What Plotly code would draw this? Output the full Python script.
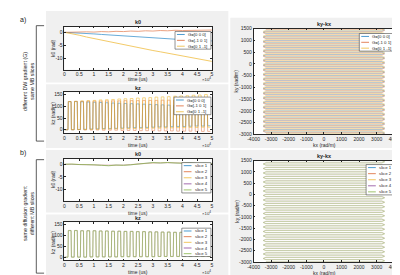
import plotly.graph_objects as go

# ---------------- DATA ----------------
t_k0 = [0, 0.25, 0.5, 0.75, 1.0, 1.25, 1.5, 1.75, 2.0, 2.25, 2.5, 2.75, 3.0,
        3.25, 3.5, 3.75, 4.0, 4.25, 4.5, 4.75, 5.0]  # time (x10^4 us)

# panel a: k0 for different DW gradients
k0_a_G000 = [0, -0.1, -0.2, -0.4, -0.6, -0.8, -1.0, -1.2, -1.4, -1.6, -1.8,
             -2.0, -2.2, -2.4, -2.6, -2.7, -2.9, -3.0, -3.1, -3.2, -3.3]
k0_a_Gm101 = [0, 0.1, 0.0, 0.2, 0.1, 0.3, 0.2, 0.4, 0.3, 0.5, 0.4,
              0.6, 0.5, 0.7, 0.6, 0.8, 0.7, 0.8, 0.9, 0.8, 0.9]
k0_a_G01m1 = [0, -0.5, -1.1, -1.8, -2.4, -3.0, -3.6, -4.2, -4.8, -5.4, -5.9,
              -6.5, -7.0, -7.5, -8.0, -8.6, -9.1, -9.6, -10.1, -10.7, -11.2]

# panel b: k0 for different MB slices
k0_b_s1 = [0, 0.0, -0.1, -0.1, -0.2, -0.4, -0.5, -0.3, -0.4, -0.2, 0.1,
           0.4, 0.6, 0.5, 0.7, 0.5, 0.4, 0.6, 0.3, 0.4, 0.3]
k0_b_s2 = [0, 0.1, -0.1, -0.2, -0.2, -0.3, -0.5, -0.4, -0.3, -0.2, 0.2,
           0.4, 0.5, 0.6, 0.6, 0.5, 0.5, 0.5, 0.4, 0.3, 0.3]
k0_b_s3 = [0, 0.0, 0.0, -0.1, -0.3, -0.4, -0.4, -0.3, -0.4, -0.1, 0.1,
           0.3, 0.6, 0.6, 0.7, 0.6, 0.4, 0.5, 0.4, 0.4, 0.2]
k0_b_s4 = [0, 0.0, -0.1, -0.2, -0.3, -0.3, -0.5, -0.4, -0.3, -0.1, 0.2,
           0.5, 0.6, 0.5, 0.6, 0.6, 0.5, 0.6, 0.3, 0.3, 0.3]
k0_b_s5 = [0, 0.1, -0.1, -0.1, -0.2, -0.4, -0.6, -0.3, -0.4, -0.2, 0.0,
           0.4, 0.7, 0.5, 0.7, 0.5, 0.4, 0.6, 0.4, 0.5, 0.3]

# kz blip timing (x10^4 us)
kz_rise = [0.12, 0.33, 0.54, 0.75, 0.96, 1.17, 1.38, 1.59, 1.80, 2.01, 2.22, 2.43,
           2.64, 2.85, 3.06, 3.27, 3.48, 3.69, 3.90, 4.11, 4.32, 4.53, 4.74]
kz_fall = [0.225, 0.435, 0.645, 0.855, 1.065, 1.275, 1.485, 1.695, 1.905, 2.115,
           2.325, 2.535, 2.745, 2.955, 3.165, 3.375, 3.585, 3.795, 4.005, 4.215,
           4.425, 4.635, 4.845]
kz_t_end = 4.95

kz_a_G000_high = [120, 120, 119, 118, 117, 116, 115, 114, 113, 112, 111, 110,
                  109, 108, 107, 106, 105, 104, 103, 102, 101, 100, 100]
kz_a_G000_low = [0, 1, 2, 3, 4, 5, 5, 6, 7, 8, 9, 9, 10, 11, 12, 12, 13, 14,
                 14, 15, 16, 16, 17]
kz_a_Gm101_high = [120, 121, 121, 122, 122, 122, 123, 123, 123, 124, 124, 124,
                   125, 125, 125, 126, 126, 126, 127, 127, 127, 128, 128]
kz_a_Gm101_low = [0, 0, -1, -1, -1, -2, -2, -2, -3, -3, -3, -4, -4, -4, -5, -5,
                  -5, -6, -6, -6, -7, -7, -7]
kz_a_G01m1_high = [120, 121, 123, 124, 125, 127, 128, 129, 131, 132, 133, 135,
                   136, 137, 139, 140, 141, 143, 144, 145, 147, 148, 150]
kz_a_G01m1_low = [0, 1, 1, 2, 2, 3, 3, 4, 4, 5, 5, 6, 6, 7, 7, 8, 8, 9, 9, 10,
                  10, 11, 11]

kz_b_high = [122, 122, 121, 121, 121, 120, 120, 119, 119, 118, 118, 117, 117,
             116, 116, 115, 115, 114, 114, 113, 113, 112, 112]
kz_b_low = [0, 0, 0, 1, 1, 1, 1, 1, 2, 2, 2, 2, 2, 2, 3, 3, 3, 3, 3, 3, 3, 3, 3]
kz_b_slice_shift = [0.0, 0.6, -0.6, 1.0, 0.0]

# EPI ky lines (rad/m)
ky_levels = [-3000, -2900, -2800, -2700, -2600, -2500, -2400, -2300, -2200,
             -2100, -2000, -1900, -1800, -1700, -1600, -1500, -1400, -1300,
             -1200, -1100, -1000, -900, -800, -700, -600, -500, -400, -300,
             -200, -100, 0, 100, 200, 300, 400, 500, 600, 700, 800, 900, 1000,
             1100, 1200, 1300, 1400, 1500]
kx_extent = 3300     # end of each readout line (rad/m)
kx_tip = 3450        # turnaround tip (rad/m)
ky_shift_a = [0, -30, 35]
ky_shift_b = [0, 8, -8, 15, 0]

names_a = ["G=[0 0 0]", "G=[-1 0 1]", "G=[0 1 -1]"]
names_b = ["slice 1", "slice 2", "slice 3", "slice 4", "slice 5"]
colors = ["#0072BD", "#D95319", "#EDB120", "#7E2F8E", "#77AC30"]

time_ticks = [0, 0.5, 1, 1.5, 2, 2.5, 3, 3.5, 4, 4.5, 5]
time_ticktext = ["0", "0.5", "1", "1.5", "2", "2.5", "3", "3.5", "4", "4.5", "5"]
k0_ticks = [-10, -5, 0]
kz_ticks = [0, 50, 100, 150]
kx_ticks = [-4000, -3000, -2000, -1000, 0, 1000, 2000, 3000, 4000]
ky_ticks = [-3000, -2500, -2000, -1500, -1000, -500, 0, 500, 1000, 1500]

# ---------------- HELPERS ----------------
W, H = 400, 275
FONT = "Liberation Sans"
INK = "#262626"


def X(px):
    return px / W


def Y(py):
    return 1 - py / H


def square_wave(rises, falls, highs, lows, t_end, shift=0.0, ramp=0.012):
    t, v = [0.0], [0.0 + shift]
    prev = 0.0
    for k in range(len(rises)):
        t += [rises[k], rises[k] + ramp, falls[k], falls[k] + ramp]
        v += [prev + shift, highs[k] + shift, highs[k] + shift, lows[k] + shift]
        prev = lows[k]
    t.append(t_end)
    v.append(prev + shift)
    return t, v


def epi_path(levels, shift):
    xs, ys = [], []
    n = len(levels)
    for i, ky in enumerate(levels):
        if i % 2 == 0:
            xs += [-kx_extent, kx_extent]
        else:
            xs += [kx_extent, -kx_extent]
        ys += [ky + shift, ky + shift]
        if i < n - 1:
            xs.append(kx_tip if i % 2 == 0 else -kx_tip)
            ys.append((ky + levels[i + 1]) / 2 + shift)
    return xs, ys


fig = go.Figure()

op_a = [0.65, 0.6, 0.75]
op_b = [0.18, 0.18, 0.18, 0.18, 0.65]

# ---- panel a, k0 ----
for arr, c, n, op in zip([k0_a_G000, k0_a_Gm101, k0_a_G01m1], colors[:3], names_a, op_a):
    fig.add_trace(go.Scatter(x=t_k0, y=arr, mode="lines", xaxis="x", yaxis="y",
                             line=dict(color=c, width=0.9), opacity=op,
                             name=n, showlegend=False))
# ---- panel a, kz ----
for hi, lo, c, n, op in zip([kz_a_G000_high, kz_a_Gm101_high, kz_a_G01m1_high],
                            [kz_a_G000_low, kz_a_Gm101_low, kz_a_G01m1_low],
                            colors[:3], names_a, op_a):
    t, v = square_wave(kz_rise, kz_fall, hi, lo, kz_t_end)
    fig.add_trace(go.Scatter(x=t, y=v, mode="lines", xaxis="x2", yaxis="y2",
                             line=dict(color=c, width=0.7), opacity=op,
                             name=n, showlegend=False))
# ---- panel a, ky-kx ----
for sh, c, n in zip(ky_shift_a, colors[:3], names_a):
    xs, ys = epi_path(ky_levels, sh)
    fig.add_trace(go.Scatter(x=xs, y=ys, mode="lines", xaxis="x3", yaxis="y3",
                             line=dict(color=c, width=0.6), opacity=0.55,
                             name=n, showlegend=False))
# ---- panel b, k0 ----
for arr, c, n, op in zip([k0_b_s1, k0_b_s2, k0_b_s3, k0_b_s4, k0_b_s5], colors, names_b, op_b):
    fig.add_trace(go.Scatter(x=t_k0, y=arr, mode="lines", xaxis="x4", yaxis="y4",
                             line=dict(color=c, width=0.9), opacity=op,
                             name=n, showlegend=False))
# ---- panel b, kz ----
for sh, c, n, op in zip(kz_b_slice_shift, colors, names_b, op_b):
    t, v = square_wave(kz_rise, kz_fall, kz_b_high, kz_b_low, kz_t_end, shift=sh)
    fig.add_trace(go.Scatter(x=t, y=v, mode="lines", xaxis="x5", yaxis="y5",
                             line=dict(color=c, width=0.7), opacity=op,
                             name=n, showlegend=False))
# ---- panel b, ky-kx ----
for sh, c, n, op in zip(ky_shift_b, colors, names_b, op_b):
    xs, ys = epi_path(ky_levels, sh)
    fig.add_trace(go.Scatter(x=xs, y=ys, mode="lines", xaxis="x6", yaxis="y6",
                             line=dict(color=c, width=0.6), opacity=op * 0.75,
                             name=n, showlegend=False))

# ---------------- LAYOUT ----------------
axes_px = {1: (52, 204, 16, 60), 2: (52, 204, 83, 125), 3: (247, 392, 18, 126),
           4: (52, 204, 151, 194), 5: (52, 204, 216, 255), 6: (247, 392, 153, 256.5)}

k0_range = [-14.4, 2.2]
kz_range = [-15, 160]

axis_common = dict(showline=True, linecolor=INK, linewidth=0.6, mirror="ticks",
                   ticks="inside", ticklen=2, tickwidth=0.5, tickcolor=INK,
                   tickfont=dict(family=FONT, size=5, color=INK),
                   showgrid=False, zeroline=False, fixedrange=True)


def tt(vals):
    return [("-" + f"{abs(v):g}") if v < 0 else f"{v:g}" for v in vals]


layout = {}
for i, (x0, x1, y0, y1) in axes_px.items():
    sx = "" if i == 1 else str(i)
    if i in (1, 2, 4, 5):
        xa = dict(range=[0, 5], tickvals=time_ticks, ticktext=time_ticktext)
        if i in (1, 4):
            ya = dict(range=k0_range, tickvals=k0_ticks, ticktext=tt(k0_ticks))
        else:
            ya = dict(range=kz_range, tickvals=kz_ticks, ticktext=tt(kz_ticks))
    else:
        xa = dict(range=[-4000, 4000], tickvals=kx_ticks, ticktext=tt(kx_ticks))
        ya = dict(range=[-3000, 1500], tickvals=ky_ticks, ticktext=tt(ky_ticks))
    layout["xaxis" + sx] = dict(domain=[X(x0), X(x1)], anchor="y" + sx, **xa, **axis_common)
    layout["yaxis" + sx] = dict(domain=[Y(y1), Y(y0)], anchor="x" + sx, **ya, **axis_common)

shapes = []
# gray figure panels
panels = [(33, 221, 0, 73), (33, 221, 75, 140), (223, 400, 7, 140),
          (33, 221, 142, 206), (33, 221, 208, 275), (223, 400, 142, 275)]
for (x0, x1, y0, y1) in panels:
    shapes.append(dict(type="rect", xref="paper", yref="paper", x0=X(x0), x1=X(x1),
                       y0=Y(y1), y1=Y(y0), fillcolor="#f0f0f0", line=dict(width=0),
                       layer="below"))
# white plot areas
for i in axes_px:
    sx = "" if i == 1 else str(i)
    shapes.append(dict(type="rect", xref="x" + sx + " domain", yref="y" + sx + " domain",
                       x0=0, x1=1, y0=0, y1=1, fillcolor="white", line=dict(width=0),
                       layer="below"))
# brackets
for (yt, yb) in [(15, 133), (152, 268)]:
    shapes.append(dict(type="path", xref="paper", yref="paper",
                       path=f"M {X(31)},{Y(yt)} L {X(23)},{Y(yt)} L {X(23)},{Y(yb)} L {X(31)},{Y(yb)}",
                       line=dict(color="#333333", width=0.8)))

annotations = []


def add_text(txt, px, py, size=5, angle=0, xanchor="center", bold=False, color=INK):
    annotations.append(dict(text=("<b>" + txt + "</b>") if bold else txt,
                            x=X(px), y=Y(py), xref="paper", yref="paper",
                            showarrow=False, textangle=angle, xanchor=xanchor,
                            yanchor="middle",
                            font=dict(family=FONT, size=size, color=color)))


# legends
def add_legend(x0, x1, y0, y1, labels, cols):
    shapes.append(dict(type="rect", xref="paper", yref="paper", x0=X(x0), x1=X(x1),
                       y0=Y(y1), y1=Y(y0), fillcolor="white",
                       line=dict(color=INK, width=0.5)))
    n = len(labels)
    step = (y1 - y0) / n
    for k, (lab, c) in enumerate(zip(labels, cols)):
        yc = y0 + step * (k + 0.5)
        shapes.append(dict(type="line", xref="paper", yref="paper", x0=X(x0 + 2),
                           x1=X(x0 + 10), y0=Y(yc), y1=Y(yc),
                           line=dict(color=c, width=1), opacity=0.7))
        add_text(lab, x0 + 11.5, yc, size=4.3, xanchor="left")


add_legend(166, 203, 21, 39, names_a, colors[:3])
add_legend(165, 203, 88, 106, names_a, colors[:3])
add_legend(356, 392, 23, 41, names_a, colors[:3])
add_legend(173, 203, 155, 186, names_b, colors)
add_legend(173, 203, 222, 251, names_b, colors)
add_legend(363, 392, 157, 188, names_b, colors)

# titles
add_text("k0", 128, 11, size=5.5, bold=True)
add_text("kz", 128, 78.5, size=5.5, bold=True)
add_text("ky-kx", 320, 13, size=5.5, bold=True)
add_text("k0", 128, 146.5, size=5.5, bold=True)
add_text("kz", 128, 211.5, size=5.5, bold=True)
add_text("ky-kx", 320, 148, size=5.5, bold=True)

# axis labels
for ypx in (70, 137, 206, 267):
    add_text("time (us)", 128, ypx, size=5)
    add_text("×10<sup>4</sup>", 198, ypx, size=4.3)
add_text("k0 (rad)", 40, 38, size=5, angle=-90)
add_text("kz (rad/m)", 40, 104, size=5, angle=-90)
add_text("k0 (rad)", 40, 172, size=5, angle=-90)
add_text("kz (rad/m)", 40, 236, size=5, angle=-90)
add_text("ky (rad/m)", 229, 72, size=5, angle=-90)
add_text("ky (rad/m)", 229, 205, size=5, angle=-90)
add_text("kx (rad/m)", 320, 137, size=5)
add_text("kx (rad/m)", 320, 267.5, size=5)

# panel letters & bracket text
add_text("a)", 9, 9, size=7, color="#222222")
add_text("b)", 9, 145, size=7, color="#222222")
add_text("different DW gradient (G)<br>same MB slices", 15, 72, size=5.3, angle=-90,
         color="#222222")
add_text("same diffusion gradient<br>different MB slices", 15, 207, size=5.3, angle=-90,
         color="#222222")

fig.update_layout(width=W, height=H, margin=dict(l=0, r=0, t=0, b=0),
                  paper_bgcolor="white", plot_bgcolor="white",
                  showlegend=False, shapes=shapes, annotations=annotations,
                  **layout)

fig.write_html("out.html", config={"displayModeBar": False})
